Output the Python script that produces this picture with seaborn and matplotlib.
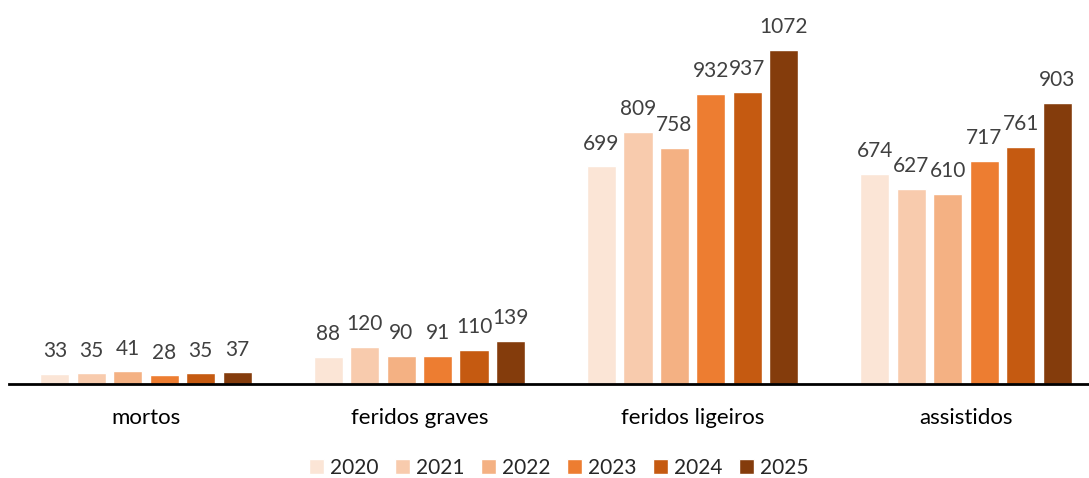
import matplotlib
matplotlib.use("Agg")
import matplotlib.pyplot as plt
import seaborn as sns
import pandas as pd

categories = ["mortos", "feridos graves", "feridos ligeiros", "assistidos"]
years = ["2020", "2021", "2022", "2023", "2024", "2025"]
v2020 = [33, 88, 699, 674]
v2021 = [35, 120, 809, 627]
v2022 = [41, 90, 758, 610]
v2023 = [28, 91, 932, 717]
v2024 = [35, 110, 937, 761]
v2025 = [37, 139, 1072, 903]
palette = ["#FBE5D6", "#F8CBAD", "#F4B183", "#ED7D31", "#C55A11", "#843C0C"]

series = [v2020, v2021, v2022, v2023, v2024, v2025]
rows = []
for y, vals in zip(years, series):
    for c, v in zip(categories, vals):
        rows.append({"categoria": c, "ano": y, "valor": v})
df = pd.DataFrame(rows)

sns.set_theme(style="white")
plt.rcParams["font.family"] = ["Lato", "DejaVu Sans"]

fig = plt.figure(figsize=(10.89, 4.78), dpi=100)
ax = fig.add_axes([9.3 / 1089, 94 / 478, 1093.4 / 1089, 374 / 478])

sns.barplot(data=df, x="categoria", y="valor", hue="ano", order=categories,
            hue_order=years, palette=palette, width=0.8, gap=0.2,
            saturation=1, ax=ax, legend=True)

for cont in ax.containers:
    ax.bar_label(cont, fmt="%d", padding=9, fontsize=15, color="#404040")

ax.set_ylim(0, 1200)
ax.set_xlim(-0.5, 3.5)
ax.set_xlabel("")
ax.set_ylabel("")
ax.set_yticks([])
for s in ["top", "right", "left"]:
    ax.spines[s].set_visible(False)
ax.spines["bottom"].set_color("black")
ax.spines["bottom"].set_linewidth(2)
ax.spines["bottom"].set_bounds(-0.5, 3.48)
ax.tick_params(axis="x", length=0, pad=17, labelsize=16, labelcolor="black")

handles, labels = ax.get_legend_handles_labels()
ax.get_legend().remove()
fig.legend(handles, labels, loc="center", bbox_to_anchor=(0.513, 0.021),
           ncol=6, frameon=False, fontsize=15, handlelength=0.7,
           handleheight=0.7, handletextpad=0.3, columnspacing=0.8)

fig.savefig("out.png", dpi=100)
